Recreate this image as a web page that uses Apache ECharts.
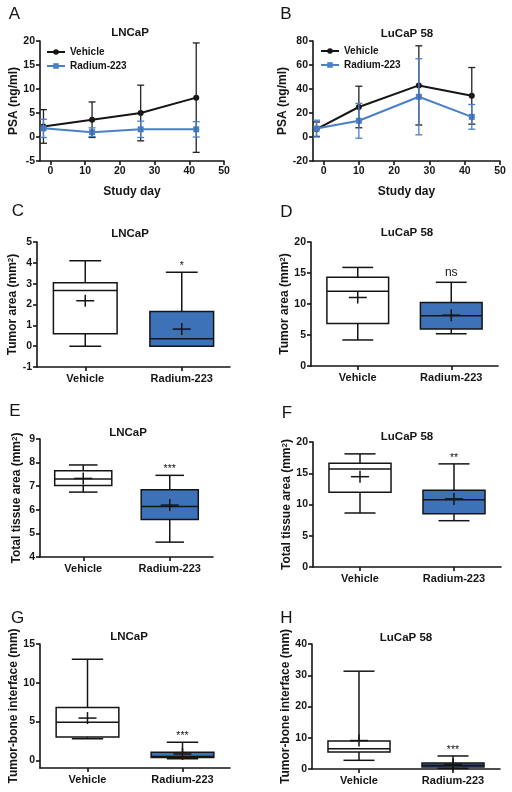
<!DOCTYPE html>
<html><head><meta charset="utf-8">
<script src="https://cdn.jsdelivr.net/npm/echarts@6/dist/echarts.min.js"></script>
<style>html,body{margin:0;padding:0;background:#fff}#c{width:512px;height:792px}</style>
</head><body><div id="c"></div>
<script>
// ---------- data ----------
const studyDayTicks = [0, 10, 20, 30, 40, 50];
const daysLNCaP = [-2, 12, 26, 42];
const vehicleLNCaP = [2.2, 3.6, 5.0, 8.2];
const vehicleLNCaPSD = [3.5, 3.7, 5.8, 11.4];
const radiumLNCaP = [1.8, 1.0, 1.6, 1.6];
const radiumLNCaPSD = [1.9, 0.9, 1.7, 1.6];
const daysLuCaP = [-2, 10, 27, 42];
const vehicleLuCaP = [6.5, 25, 43, 34.3];
const vehicleLuCaPSD = [6, 17.3, 33, 23.6];
const radiumLuCaP = [7, 13.5, 33.5, 16.8];
const radiumLuCaPSD = [7, 14.5, 31.7, 10.3];
const psaSig = ['*', '**'];

const boxCategories = ['Vehicle', 'Radium-223'];
// each row: [min, Q1, median, Q3, max, mean]
const tumorAreaLNCaP = [[0, 0.6, 2.67, 3.05, 4.1, 2.18], [0, 0, 0.36, 1.67, 3.55, 0.82]];
const tumorAreaLuCaP = [[4.2, 6.85, 12.05, 14.3, 15.9, 11.05], [5.2, 5.95, 8.1, 10.25, 13.5, 8.2]];
const tissueAreaLNCaP = [[6.75, 7.03, 7.30, 7.65, 7.90, 7.33], [4.63, 5.59, 6.14, 6.85, 7.46, 6.2]];
const tissueAreaLuCaP = [[8.64, 11.95, 15.7, 16.6, 18.1, 14.45], [7.41, 8.53, 10.77, 12.27, 16.5, 10.9]];
const interfaceLNCaP = [[2.79, 3.0, 4.89, 6.81, 13.03, 5.44], [0.2, 0.34, 0.5, 1.03, 2.31, 0.8]];
const interfaceLuCaP = [[2.78, 5.45, 6.5, 9.0, 31.3, 9.1], [0.2, 0.64, 1.2, 1.93, 4.17, 1.4]];
const boxSig = { C: ['', '*'], D: ['', 'ns'], E: ['', '***'], F: ['', '**'], G: ['', '***'], H: ['', '***'] };
const interfaceLNCaPTicks = [0, 5, 10, 15];

// ---------- style ----------
const FONT = 'Liberation Sans';
const INK = '#151515';
const BLUE_LINE = '#4a80c8';
const BLUE_BOX = '#3d72b8';

const grids = [
  { left: 40, top: 41, width: 184, height: 120 },   // A
  { left: 313, top: 41, width: 187, height: 120 },  // B
  { left: 37, top: 242, width: 193, height: 125 },  // C
  { left: 311, top: 242, width: 187, height: 124 }, // D
  { left: 40, top: 439, width: 173, height: 118 },  // E
  { left: 313, top: 442, width: 188, height: 125 }, // F
  { left: 40, top: 644, width: 190, height: 124 },  // G
  { left: 312, top: 644, width: 188, height: 125 }  // H
];

const axisLine = { show: true, onZero: false, lineStyle: { color: INK, width: 1.6 } };
const axisTick = { show: true, inside: false, length: 4, lineStyle: { color: INK, width: 1.6 } };
const lab = { color: INK, fontFamily: FONT, fontWeight: 'bold', fontSize: 10.5 };
const nameStyle = {
  color: INK, fontFamily: FONT, fontWeight: 'bold', fontSize: 12,
  rich: {
    t: { color: INK, fontFamily: FONT, fontWeight: 'bold', fontSize: 12 },
    sup: { color: INK, fontFamily: FONT, fontWeight: 'bold', fontSize: 8, verticalAlign: 'top', padding: [0, 0, 4, 0] }
  }
};

function xValue(gi) {
  return {
    type: 'value', gridIndex: gi, min: -3, max: 50,
    axisLine, axisTick: Object.assign({}, axisTick, { customValues: studyDayTicks }),
    axisLabel: Object.assign({}, lab, { margin: 5, customValues: studyDayTicks }),
    splitLine: { show: false },
    name: 'Study day', nameLocation: 'middle', nameGap: 25, nameTextStyle: nameStyle
  };
}
function xCat(gi) {
  return {
    type: 'category', gridIndex: gi, data: boxCategories,
    axisLine, axisTick: Object.assign({}, axisTick, { alignWithLabel: true }),
    axisLabel: Object.assign({}, lab, { fontSize: 11, margin: 6 }),
    splitLine: { show: false }
  };
}
function yValue(gi, min, max, interval, name, gap, custom) {
  const ax = {
    type: 'value', gridIndex: gi, min, max,
    axisLine, axisTick: Object.assign({}, axisTick),
    axisLabel: Object.assign({}, lab, { margin: 5 }),
    splitLine: { show: false },
    name, nameLocation: 'middle', nameGap: gap, nameTextStyle: nameStyle
  };
  if (custom) {
    ax.axisTick.customValues = custom;
    ax.axisLabel.customValues = custom;
  } else {
    ax.interval = interval;
  }
  return ax;
}
const mm2 = (s) => '{t|' + s + ' (mm}{sup|2}{t|)}';

const xAxes = [xValue(0), xValue(1), xCat(2), xCat(3), xCat(4), xCat(5), xCat(6), xCat(7)];
const yAxes = [
  yValue(0, -5, 20, 5, 'PSA (ng/ml)', 20),
  yValue(1, -20, 80, 20, 'PSA (ng/ml)', 18),
  yValue(2, -1, 5, 1, mm2('Tumor area'), 14),
  yValue(3, 0, 20, 5, mm2('Tumor area'), 16),
  yValue(4, 4, 9, 1, mm2('Total tissue area'), 17),
  yValue(5, 0, 20, 5, mm2('Total tissue area'), 16),
  yValue(6, -1, 15, 5, 'Tumor-bone interface (mm)', 19, interfaceLNCaPTicks),
  yValue(7, 0, 40, 10, 'Tumor-bone interface (mm)', 17)
];

// ---------- series builders ----------
function lineSeries(gi, name, days, vals, color, symbol) {
  return {
    type: 'line', name, xAxisIndex: gi, yAxisIndex: gi,
    data: days.map((d, i) => [d, vals[i]]),
    symbol, symbolSize: 6, showSymbol: true,
    lineStyle: { color, width: 2 }, itemStyle: { color },
    z: 2, silent: true
  };
}
function errSeries(gi, days, vals, sds, color) {
  return {
    type: 'custom', xAxisIndex: gi, yAxisIndex: gi, z: 4, silent: true,
    data: days.map((d, i) => [d, vals[i], sds[i]]),
    renderItem(params, api) {
      const x = api.value(0), m = api.value(1), s = api.value(2);
      const t = api.coord([x, m + s]), b = api.coord([x, m - s]);
      const st = { stroke: color, lineWidth: 1.3 };
      const c = 3.5;
      return {
        type: 'group', children: [
          { type: 'line', shape: { x1: t[0], y1: t[1], x2: b[0], y2: b[1] }, style: st },
          { type: 'line', shape: { x1: t[0] - c, y1: t[1], x2: t[0] + c, y2: t[1] }, style: st },
          { type: 'line', shape: { x1: b[0] - c, y1: b[1], x2: b[0] + c, y2: b[1] }, style: st }
        ]
      };
    }
  };
}
function sigSeries(gi, days, vals, text, dy) {
  const n = days.length - 1;
  return {
    type: 'scatter', xAxisIndex: gi, yAxisIndex: gi, silent: true,
    data: [[days[n] + 4.3, vals[n]]], symbolSize: 1, itemStyle: { opacity: 0 },
    label: { show: true, position: 'inside', offset: [0, dy], formatter: text, color: INK, fontFamily: FONT, fontSize: 11 }
  };
}
function boxSeries(gi, stats, sig) {
  return {
    type: 'custom', xAxisIndex: gi, yAxisIndex: gi, silent: true, z: 3,
    data: stats.map((r, i) => [i].concat(r)),
    renderItem(params, api) {
      const i = api.value(0);
      const v = [1, 2, 3, 4, 5, 6].map(k => api.value(k));
      const cx = api.coord([i, v[2]])[0];
      const y = v.map(val => api.coord([i, val])[1]);
      const bw = api.size([1, 0])[0] * 0.66;
      const hw = bw / 2, cap = bw / 4;
      const st = { stroke: INK, lineWidth: 1.5 };
      const fill = i === 0 ? '#ffffff' : BLUE_BOX;
      const ch = [
        { type: 'line', shape: { x1: cx, y1: y[4], x2: cx, y2: y[3] }, style: st },
        { type: 'line', shape: { x1: cx, y1: y[1], x2: cx, y2: y[0] }, style: st },
        { type: 'line', shape: { x1: cx - cap, y1: y[4], x2: cx + cap, y2: y[4] }, style: st },
        { type: 'line', shape: { x1: cx - cap, y1: y[0], x2: cx + cap, y2: y[0] }, style: st },
        { type: 'rect', shape: { x: cx - hw, y: y[3], width: bw, height: y[1] - y[3] }, style: { fill, stroke: INK, lineWidth: 1.5 } },
        { type: 'line', shape: { x1: cx - hw, y1: y[2], x2: cx + hw, y2: y[2] }, style: st },
        { type: 'line', shape: { x1: cx - 9, y1: y[5], x2: cx + 9, y2: y[5] }, style: st },
        { type: 'line', shape: { x1: cx, y1: y[5] - 6, x2: cx, y2: y[5] + 6 }, style: st }
      ];
      const s = sig[i];
      if (s) {
        const isNs = s === 'ns';
        ch.push({
          type: 'text', x: cx, y: y[4] - (isNs ? 10 : 6),
          style: { text: s, fill: INK, fontFamily: FONT, fontSize: isNs ? 12 : 10.5, align: 'center', verticalAlign: 'middle' }
        });
      }
      return { type: 'group', children: ch };
    }
  };
}

const series = [
  lineSeries(0, 'Vehicle', daysLNCaP, vehicleLNCaP, INK, 'circle'),
  lineSeries(0, 'Radium-223', daysLNCaP, radiumLNCaP, BLUE_LINE, 'rect'),
  errSeries(0, daysLNCaP, vehicleLNCaP, vehicleLNCaPSD, '#222'),
  errSeries(0, daysLNCaP, radiumLNCaP, radiumLNCaPSD, BLUE_LINE),
  sigSeries(0, daysLNCaP, radiumLNCaP, psaSig[0], 2),
  lineSeries(1, 'Vehicle', daysLuCaP, vehicleLuCaP, INK, 'circle'),
  lineSeries(1, 'Radium-223', daysLuCaP, radiumLuCaP, BLUE_LINE, 'rect'),
  errSeries(1, daysLuCaP, vehicleLuCaP, vehicleLuCaPSD, '#222'),
  errSeries(1, daysLuCaP, radiumLuCaP, radiumLuCaPSD, BLUE_LINE),
  sigSeries(1, daysLuCaP, radiumLuCaP, psaSig[1], 3),
  boxSeries(2, tumorAreaLNCaP, boxSig.C),
  boxSeries(3, tumorAreaLuCaP, boxSig.D),
  boxSeries(4, tissueAreaLNCaP, boxSig.E),
  boxSeries(5, tissueAreaLuCaP, boxSig.F),
  boxSeries(6, interfaceLNCaP, boxSig.G),
  boxSeries(7, interfaceLuCaP, boxSig.H)
];

const legendBase = {
  data: ['Vehicle', 'Radium-223'], orient: 'vertical', itemWidth: 18, itemHeight: 7, itemGap: 4,
  selectedMode: false, padding: 0,
  textStyle: { color: INK, fontFamily: FONT, fontWeight: 'bold', fontSize: 10 }
};

// titles and panel letters
const titles = [
  ['LNCaP', 130, 33], ['LuCaP 58', 407, 34], ['LNCaP', 130, 234], ['LuCaP 58', 407, 233],
  ['LNCaP', 128, 433], ['LuCaP 58', 407, 437], ['LNCaP', 129, 637], ['LuCaP 58', 406, 638]
];
const letters = [
  ['A', 14.5, 14.5], ['B', 286, 14.5], ['C', 18, 211], ['D', 286.5, 212.5],
  ['E', 15, 411], ['F', 287, 413], ['G', 17.5, 618], ['H', 286.5, 618]
];
const graphic = [];
titles.forEach(t => graphic.push({
  type: 'text', x: t[1], y: t[2],
  style: { text: t[0], fill: INK, fontFamily: FONT, fontWeight: 'bold', fontSize: 11.5, align: 'center', verticalAlign: 'middle' }
}));
letters.forEach(t => graphic.push({
  type: 'text', x: t[1], y: t[2],
  style: { text: t[0], fill: INK, fontFamily: FONT, fontSize: 17, align: 'center', verticalAlign: 'middle' }
}));

const chart = echarts.init(document.getElementById('c'), null, { renderer: 'canvas' });
chart.setOption({
  backgroundColor: '#fff',
  animation: false,
  grid: grids,
  xAxis: xAxes,
  yAxis: yAxes,
  legend: [
    Object.assign({}, legendBase, { left: 46, top: 47 }),
    Object.assign({}, legendBase, { left: 320, top: 46 })
  ],
  series,
  graphic
});
</script></body></html>
